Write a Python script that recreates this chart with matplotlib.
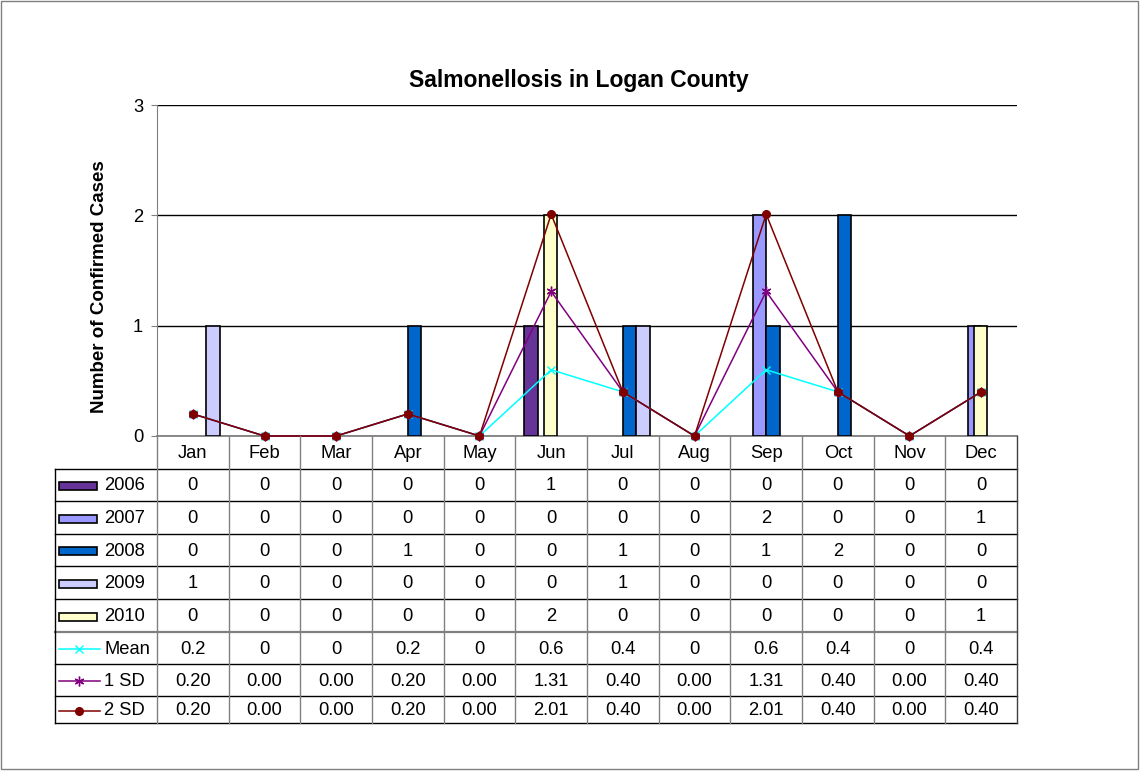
import matplotlib.pyplot as plt
from matplotlib.patches import Rectangle
from matplotlib.lines import Line2D

plt.rcParams["font.family"] = ["Liberation Sans", "DejaVu Sans"]

months = ["Jan", "Feb", "Mar", "Apr", "May", "Jun",
          "Jul", "Aug", "Sep", "Oct", "Nov", "Dec"]
years = ["2006", "2007", "2008", "2009", "2010"]
cases_2006 = [0, 0, 0, 0, 0, 1, 0, 0, 0, 0, 0, 0]
cases_2007 = [0, 0, 0, 0, 0, 0, 0, 0, 2, 0, 0, 1]
cases_2008 = [0, 0, 0, 1, 0, 0, 1, 0, 1, 2, 0, 0]
cases_2009 = [1, 0, 0, 0, 0, 0, 1, 0, 0, 0, 0, 0]
cases_2010 = [0, 0, 0, 0, 0, 2, 0, 0, 0, 0, 0, 1]
mean_vals = [0.2, 0, 0, 0.2, 0, 0.6, 0.4, 0, 0.6, 0.4, 0, 0.4]
sd1_vals = [0.20, 0.00, 0.00, 0.20, 0.00, 1.31, 0.40, 0.00, 1.31, 0.40, 0.00, 0.40]
sd2_vals = [0.20, 0.00, 0.00, 0.20, 0.00, 2.01, 0.40, 0.00, 2.01, 0.40, 0.00, 0.40]

year_series = [cases_2006, cases_2007, cases_2008, cases_2009, cases_2010]
bar_colours = ["#663399", "#9999FF", "#0066CC", "#CCCCFF", "#FFFFCC"]
line_names = ["Mean", "1 SD", "2 SD"]
line_series = [mean_vals, sd1_vals, sd2_vals]
line_colours = ["#00FFFF", "#800080", "#800000"]
line_markers = ["x", (6, 2, 0), "o"]
line_msizes = [6, 7, 5.5]

W, H = 1140, 771
CAT_PX = (1017 - 157) / 12
TXT = 13.2


def fx(px):
    return px / W


def fy(py):
    return 1 - py / H


def cat_x(px):
    # pixel x -> category units of the plot
    return -0.5 + (px - 157) / CAT_PX


fig = plt.figure(figsize=(W / 100, H / 100), dpi=100)
fig.patches.append(Rectangle((fx(1), fy(769)), fx(1137), 1 - fy(768), transform=fig.transFigure,
                             fill=False, edgecolor="#808080", linewidth=1))

ax = fig.add_axes([fx(157), fy(436), fx(1017 - 157), (436 - 105) / H])
x = list(range(len(months)))
bw = 13.5 / CAT_PX
offsets = [-1.5 * bw, -0.5 * bw, 0.5 * bw, 1.5 * bw, -0.01]
for vals, colour, off in zip(year_series, bar_colours, offsets):
    xs = [i + off for i, v in zip(x, vals) if v > 0]
    hs = [v for v in vals if v > 0]
    ax.bar(xs, hs, width=bw, color=colour, edgecolor="black",
           linewidth=1.2, zorder=3)
for vals, colour, mk, ms in zip(line_series, line_colours, line_markers, line_msizes):
    ax.plot(x, vals, color=colour, linewidth=1.1, marker=mk, markersize=ms,
            markeredgecolor=colour, markerfacecolor=colour, zorder=4, clip_on=False)

ax.set_xlim(-0.5, 11.5)
ax.set_ylim(0, 3)
ax.set_yticks([0, 1, 2, 3])
ax.set_xticks([])
ax.yaxis.grid(True, color="black", linewidth=1)
ax.set_axisbelow(True)
for side in ["top", "right"]:
    ax.spines[side].set_visible(False)
ax.spines["left"].set_color("#808080")
ax.spines["bottom"].set_color("#808080")
ax.spines["bottom"].set_linewidth(1.3)
ax.tick_params(axis="y", direction="out", length=4, color="#808080",
               labelsize=TXT, pad=6)

fig.text(fx(579), fy(80), "Salmonellosis in Logan County", ha="center",
         va="center", fontsize=16.5, fontweight="bold")
fig.text(fx(100), fy(287), "Number of Confirmed Cases", ha="center",
         va="center", rotation=90, fontsize=13.5, fontweight="bold")

# data table below the plot
tab = fig.add_axes([fx(55), fy(723), fx(1017 - 55), (723 - 436) / H])
tab.set_xlim(cat_x(55), 11.5)
tab.set_ylim(723, 436)
tab.axis("off")

row_edges = [469, 501, 534, 566, 599, 632, 664, 696, 723]
left = cat_x(55)
for yy in row_edges:
    colour = "#808080" if yy == 632 else "black"
    lw = 1.6 if yy == 632 else 1
    tab.plot([left, 11.5], [yy, yy], color=colour, linewidth=lw, clip_on=False)
tab.plot([left, left], [469, 723], color="black", linewidth=1, clip_on=False)
tab.plot([11.5, 11.5], [436, 723], color="#404040", linewidth=1, clip_on=False)
for i in range(12):
    tab.plot([i - 0.5, i - 0.5], [436, 723], color="#808080", linewidth=1,
             clip_on=False)

for i, m in enumerate(months):
    tab.text(i, 454, m, ha="center", va="center", fontsize=TXT)

row_labels = years + line_names
row_values = [[str(v) for v in s] for s in year_series]
row_values.append(["%g" % v for v in mean_vals])
row_values.append(["%.2f" % v for v in sd1_vals])
row_values.append(["%.2f" % v for v in sd2_vals])

for r, (label, vals) in enumerate(zip(row_labels, row_values)):
    yc = (row_edges[r] + row_edges[r + 1]) / 2 + 1
    tab.text(cat_x(104), yc, label, ha="left", va="center", fontsize=TXT)
    for i, v in enumerate(vals):
        tab.text(i, yc, v, ha="center", va="center", fontsize=TXT)
    if r < len(years):
        tab.add_patch(Rectangle((cat_x(59), yc - 4), cat_x(97) - cat_x(59), 8,
                                facecolor=bar_colours[r], edgecolor="black",
                                linewidth=1.2, clip_on=False))
    else:
        k = r - len(years)
        tab.add_line(Line2D([cat_x(59), cat_x(100)], [yc, yc], color=line_colours[k],
                            linewidth=1.1, clip_on=False))
        tab.add_line(Line2D([cat_x(79)], [yc], color=line_colours[k],
                            marker=line_markers[k], markersize=line_msizes[k],
                            markerfacecolor=line_colours[k], clip_on=False))

fig.savefig("out.png", dpi=100)
